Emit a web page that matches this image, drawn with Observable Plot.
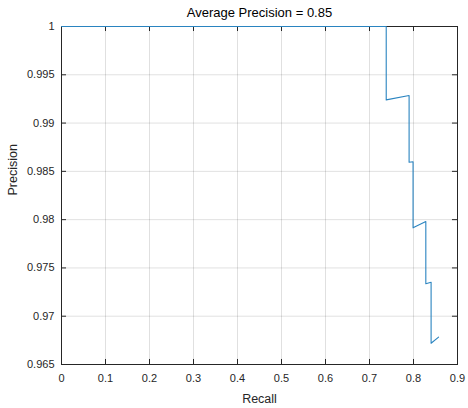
<!DOCTYPE html>
<html>
<head>
<meta charset="utf-8">
<script src="https://cdn.jsdelivr.net/npm/d3@7"></script>
<script src="https://cdn.jsdelivr.net/npm/@observablehq/plot@0.6"></script>
<style>
  html, body { margin: 0; padding: 0; background: #fff; }
  svg { font-family: "Liberation Sans", Arial, Helvetica, sans-serif; }
</style>
</head>
<body>
<div id="chart"></div>
<script>
const recall    = [0, 0.738, 0.738, 0.790, 0.790, 0.799, 0.799, 0.828, 0.828, 0.840, 0.840, 0.857];
const precision = [1, 1, 0.9924, 0.99285, 0.98595, 0.9860, 0.97915, 0.97981, 0.97336, 0.97352, 0.9672, 0.96783];
const xTicks = [0, 0.1, 0.2, 0.3, 0.4, 0.5, 0.6, 0.7, 0.8, 0.9];
const yTicks = [0.965, 0.97, 0.975, 0.98, 0.985, 0.99, 0.995, 1];
const titleText = "Average Precision = 0.85";
const xLabel = "Recall";
const yLabel = "Precision";

const data = recall.map((r, i) => ({recall: r, precision: precision[i]}));
const xMin = 0, xMax = 0.9, yMin = 0.965, yMax = 1;
const tx = 0.0114, ty = 0.00052; // inward tick length in data units

const chart = Plot.plot({
  width: 468,
  height: 408,
  marginLeft: 61,
  marginRight: 11,
  marginTop: 26,
  marginBottom: 44,
  style: {background: "#fff", fontFamily: "'Liberation Sans', Arial, sans-serif", overflow: "visible"},
  x: {domain: [xMin, xMax]},
  y: {domain: [yMin, yMax]},
  marks: [
    Plot.gridX(xTicks, {stroke: "#000", strokeOpacity: 0.12}),
    Plot.gridY(yTicks, {stroke: "#000", strokeOpacity: 0.12}),
    Plot.frame({stroke: "#262626", strokeWidth: 1}),
    Plot.ruleX(xTicks, {x: d => d, y1: yMin, y2: yMin + ty, stroke: "#262626"}),
    Plot.ruleX(xTicks, {x: d => d, y1: yMax, y2: yMax - ty, stroke: "#262626"}),
    Plot.ruleY(yTicks, {y: d => d, x1: xMin, x2: xMin + tx, stroke: "#262626"}),
    Plot.ruleY(yTicks, {y: d => d, x1: xMax, x2: xMax - tx, stroke: "#262626"}),
    Plot.axisX(xTicks, {tickSize: 0, tickPadding: 10, fontSize: 11, fill: "#262626", tickFormat: d => String(d), label: null}),
    Plot.axisY(yTicks, {tickSize: 0, tickPadding: 7, fontSize: 11, fill: "#262626", tickFormat: d => String(d), label: null}),
    Plot.line(data, {x: "recall", y: "precision", stroke: "#2a84c0", strokeWidth: 1.1}),
    Plot.text([titleText], {frameAnchor: "top", lineAnchor: "middle", dy: -14, fontSize: 13, fill: "#000"}),
    Plot.text([xLabel], {frameAnchor: "bottom", lineAnchor: "middle", dy: 34, fontSize: 12.5, fill: "#262626"}),
    Plot.text([yLabel], {frameAnchor: "left", lineAnchor: "middle", rotate: -90, dx: -49, fontSize: 12.5, fill: "#262626"})
  ]
});
document.getElementById("chart").appendChild(chart);
</script>
</body>
</html>
